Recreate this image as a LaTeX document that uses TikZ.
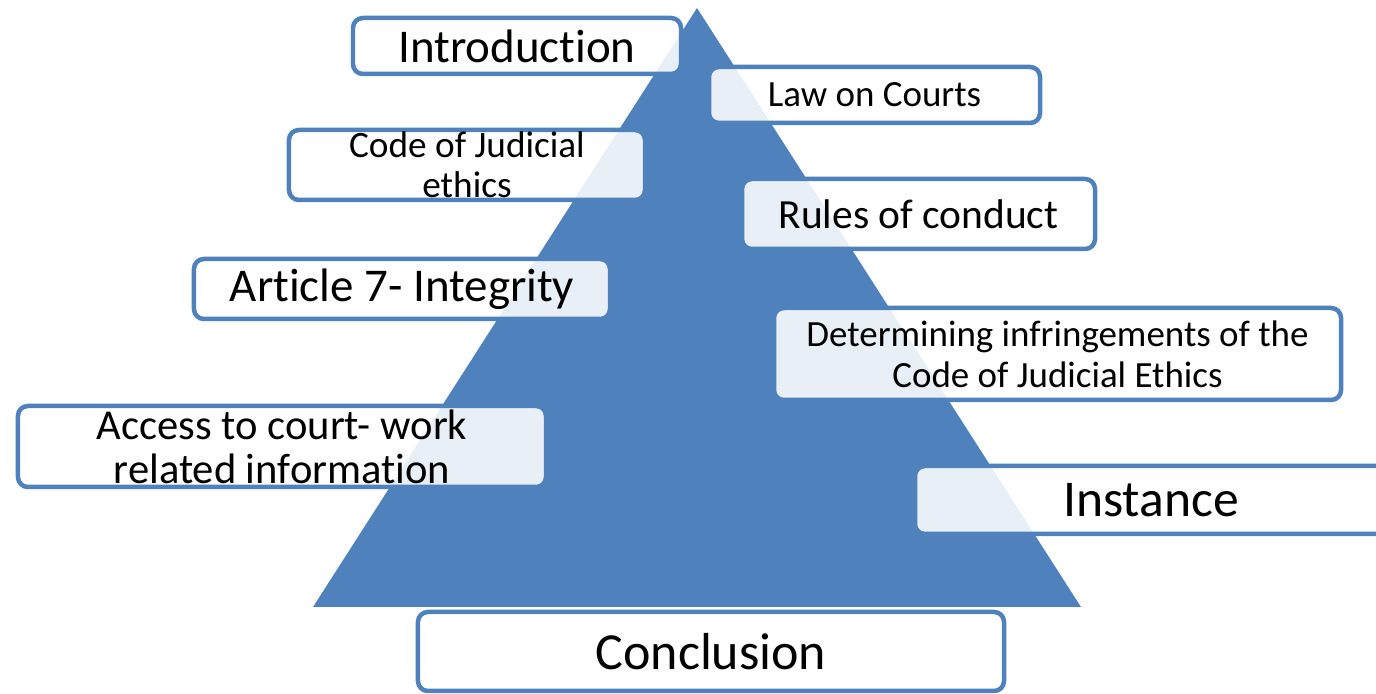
\documentclass[tikz,border=0pt]{standalone}
\usepackage{fontspec}
\setmainfont{Carlito}[Ligatures=NoCommon]
\usepackage{xcolor}
\definecolor{pyramidblue}{RGB}{79,129,189}
\usepackage{tikz}
\newcommand{\edgewidth}{3.2pt}
\tikzset{
    stage/.style={draw=pyramidblue, line width=\edgewidth, rounded corners=7pt,
        fill=white, fill opacity=0.88, text opacity=1, inner sep=0pt, align=center},
    small/.style={stage, font=\fontsize{26.3}{29}\selectfont},
    medium/.style={stage, font=\fontsize{29.5}{31.3}\selectfont},
    large/.style={stage, font=\fontsize{33.4}{36}\selectfont},
    huge/.style={stage, font=\fontsize{37}{40}\selectfont}
}

\begin{document}
\begin{tikzpicture}[x=0.25mm, y=0.25mm]
      \clip (0,0) rectangle (1376,694);

      % the pyramid behind all boxes
      \path
          coordinate (top) at (697,686)
          coordinate (base-left) at (313,87)
          coordinate (base-right) at (1081,87);
      \fill[pyramidblue] (base-left) -- (top) -- (base-right) -- cycle;

      % left side
      \node[large, minimum width=82mm, minimum height=14mm] (intro) at (517,648) {Introduction};
      \node[small, font=\fontsize{26.5}{28.5}\selectfont, minimum width=89mm, minimum height=17.5mm] (code) at (467,529) {Code of Judicial\\ethics};
      \node[large, minimum width=104mm, minimum height=15mm] (article) at (402,405) {Article 7- Integrity};
      \node[medium, font=\fontsize{30.3}{31.3}\selectfont, minimum width=132mm, minimum height=20.25mm] (access) at (282,247.5) {Access to court- work\\related information};

      % right side
      \node[small, minimum width=82.75mm, minimum height=14mm] (courts) at (874.5,599) {Law on Courts};
      \node[medium, minimum width=88.25mm, minimum height=17.5mm] (rules) at (918.5,480) {Rules of conduct};
      \node[small, minimum width=141.75mm, minimum height=23mm] (infringe) at (1057.5,340) {Determining infringements of the\\Code of Judicial Ethics};
      \node[huge, font=\fontsize{36.7}{40}\selectfont, minimum width=118mm, minimum height=17mm] (instance) at (1151,194) {Instance};

      % under the base
      \node[huge, minimum width=146.5mm, minimum height=19.75mm] (conclusion) at (711,42.5) {Conclusion};
\end{tikzpicture}
\end{document}
